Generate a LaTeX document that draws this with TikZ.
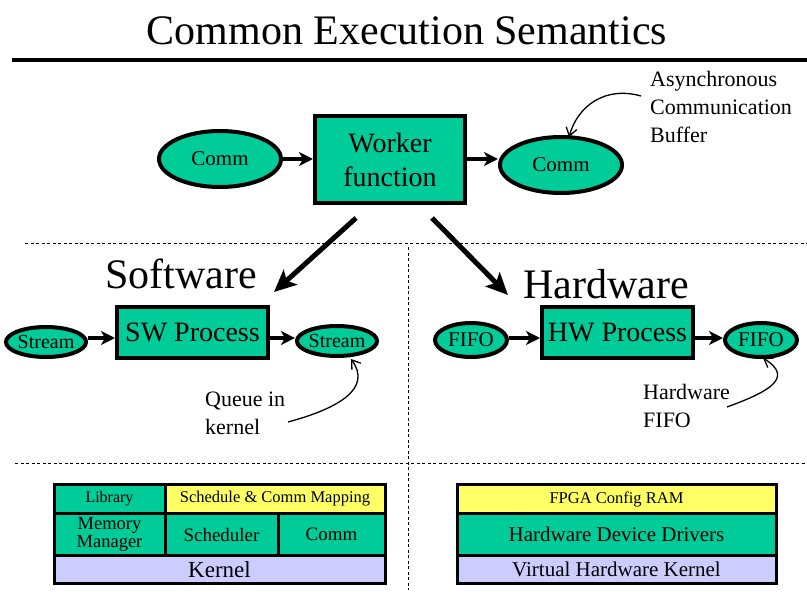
\documentclass[tikz,border=0pt]{standalone}
\usepackage{fontspec}
\setmainfont{Liberation Serif}
\usetikzlibrary{shapes.geometric,arrows.meta}
\definecolor{grn}{RGB}{0,204,153}
\definecolor{ylw}{RGB}{255,255,102}
\definecolor{lav}{RGB}{204,204,255}
\newcommand{\fs}[1]{\fontsize{#1}{#1}\selectfont}
\tikzset{
  oval/.style={ellipse, draw, line width=4pt, fill=grn, inner sep=0pt},
  procbox/.style={rectangle, draw, line width=4pt, fill=grn, inner sep=0pt, align=center},
  cell/.style={rectangle, draw, line width=3pt, inner sep=0pt, align=center},
  flow/.style={line width=4pt, -{Stealth[length=14pt,width=14pt,inset=4pt]}},
  bigflow/.style={line width=5pt, -{Stealth[length=22pt,width=20pt,inset=5pt]}},
  note/.style={line width=1.3pt, -{Straight Barb[length=8pt,width=11pt]}},
  notetext/.style={align=left, anchor=north west, inner sep=0pt, font=\fontsize{22}{28}\selectfont},
  sep/.style={line width=0.8pt, dash pattern=on 3pt off 2.5pt}
}
\begin{document}
\begin{tikzpicture}[x=1pt,y=-1pt]
\useasboundingbox (0,0) rectangle (807,592);
% title
\node (title) at (407,31) {\fs{42}Common Execution Semantics};
\coordinate (r1) at (12,60); \coordinate (r2) at (807,60);
\draw[line width=4pt] (r1) -- (r2);
% top row
\node[oval, minimum width=122pt, minimum height=56pt] (c1) at (220,159) {\fs{21}Comm};
\node[procbox, minimum width=150pt, minimum height=87pt, font=\fontsize{28}{34}\selectfont] (wf) at (390,159.5) {Worker\\function};
\node[oval, minimum width=122pt, minimum height=56pt] (c2) at (561,165) {\fs{21}Comm};
\draw[flow] (c1.east) -- (c1.east -| wf.west);
\draw[flow] (wf.east |- 0,159) -- (c2.west |- 0,159);
\node[notetext] (acb) at (650,71) {Asynchronous\\Communication\\Buffer};
\coordinate (acbs) at (641,96);
\draw[note] (acbs) .. controls (606,86) and (578,105) .. (569,137);
% separators
\coordinate (d1a) at (25,243); \coordinate (d1b) at (807,243);
\coordinate (d2a) at (15,463); \coordinate (d2b) at (807,463);
\coordinate (v1) at (408,247); \coordinate (v2) at (408,590);
\draw[sep] (d1a) -- (d1b);
\draw[sep] (d2a) -- (d2b);
\draw[sep] (v1) -- (v2);
% big arrows
\coordinate (ba1) at (356,218); \coordinate (ba1e) at (274,292);
\coordinate (ba2) at (432,218); \coordinate (ba2e) at (508,295);
\draw[bigflow] (ba1) -- (ba1e);
\draw[bigflow] (ba2) -- (ba2e);
\node (sw) at (181,274) {\fs{42}Software};
\node (hw) at (606,284) {\fs{42}Hardware};
% software row
\node[oval, minimum width=72pt, minimum height=30pt] (s1) at (46,342) {\fs{20}Stream};
\node[procbox, minimum width=151pt, minimum height=51pt] (swp) at (192.5,332.5) {\fs{28}SW Process};
\node[oval, minimum width=72pt, minimum height=30pt] (s2) at (337,341) {\fs{20}Stream};
\draw[flow] (s1.east |- 0,338) -- (swp.west |- 0,338);
\draw[flow] (swp.east |- 0,338) -- (s2.west |- 0,338);
\node[notetext] (qk) at (205,392) {Queue in\\kernel};
\coordinate (qks) at (288,422);
\draw[note] (qks) .. controls (340,408) and (372,388) .. (351,359);
% hardware row
\node[oval, minimum width=72pt, minimum height=34pt] (f1) at (471,340) {\fs{21}FIFO};
\node[procbox, minimum width=151pt, minimum height=51pt] (hwp) at (617.5,332.5) {\fs{28}HW Process};
\node[oval, minimum width=72pt, minimum height=34pt] (f2) at (761,340) {\fs{21}FIFO};
\draw[flow] (f1.east |- 0,338) -- (hwp.west |- 0,338);
\draw[flow] (hwp.east |- 0,338) -- (f2.west |- 0,338);
\node[notetext] (hf) at (643,384) {Hardware\\FIFO};
\coordinate (hfs) at (727,407);
\draw[note] (hfs) .. controls (768,392) and (795,378) .. (763,358);
% software stack
\node[cell, fill=grn, minimum width=111pt, minimum height=29pt] (lib) at (109.5,499) {\fs{16}Library};
\node[cell, fill=ylw, minimum width=220pt, minimum height=29pt] (scm) at (275,499) {\fs{16.5}Schedule \& Comm Mapping};
\node[cell, fill=grn, minimum width=111pt, minimum height=42pt, font=\fontsize{18.5}{18.5}\selectfont] (mem) at (109.5,534.5) {Memory\\Manager};
\node[cell, fill=grn, minimum width=113pt, minimum height=42pt] (sch) at (221.5,534.5) {\fs{19}Scheduler};
\node[cell, fill=grn, minimum width=107pt, minimum height=42pt] (cm) at (331.5,534.5) {\fs{19}Comm};
\node[cell, fill=lav, minimum width=331pt, minimum height=28pt] (ker) at (219.5,569.5) {\fs{23}Kernel};
% hardware stack
\node[cell, fill=ylw, minimum width=319pt, minimum height=29pt] (fpga) at (616.5,499) {\fs{16.5}FPGA Config RAM};
\node[cell, fill=grn, minimum width=319pt, minimum height=42pt] (hdd) at (616.5,534.5) {\fs{21}Hardware Device Drivers};
\node[cell, fill=lav, minimum width=319pt, minimum height=28pt] (vhk) at (616.5,569.5) {\fs{21}Virtual Hardware Kernel};
\end{tikzpicture}
\end{document}
